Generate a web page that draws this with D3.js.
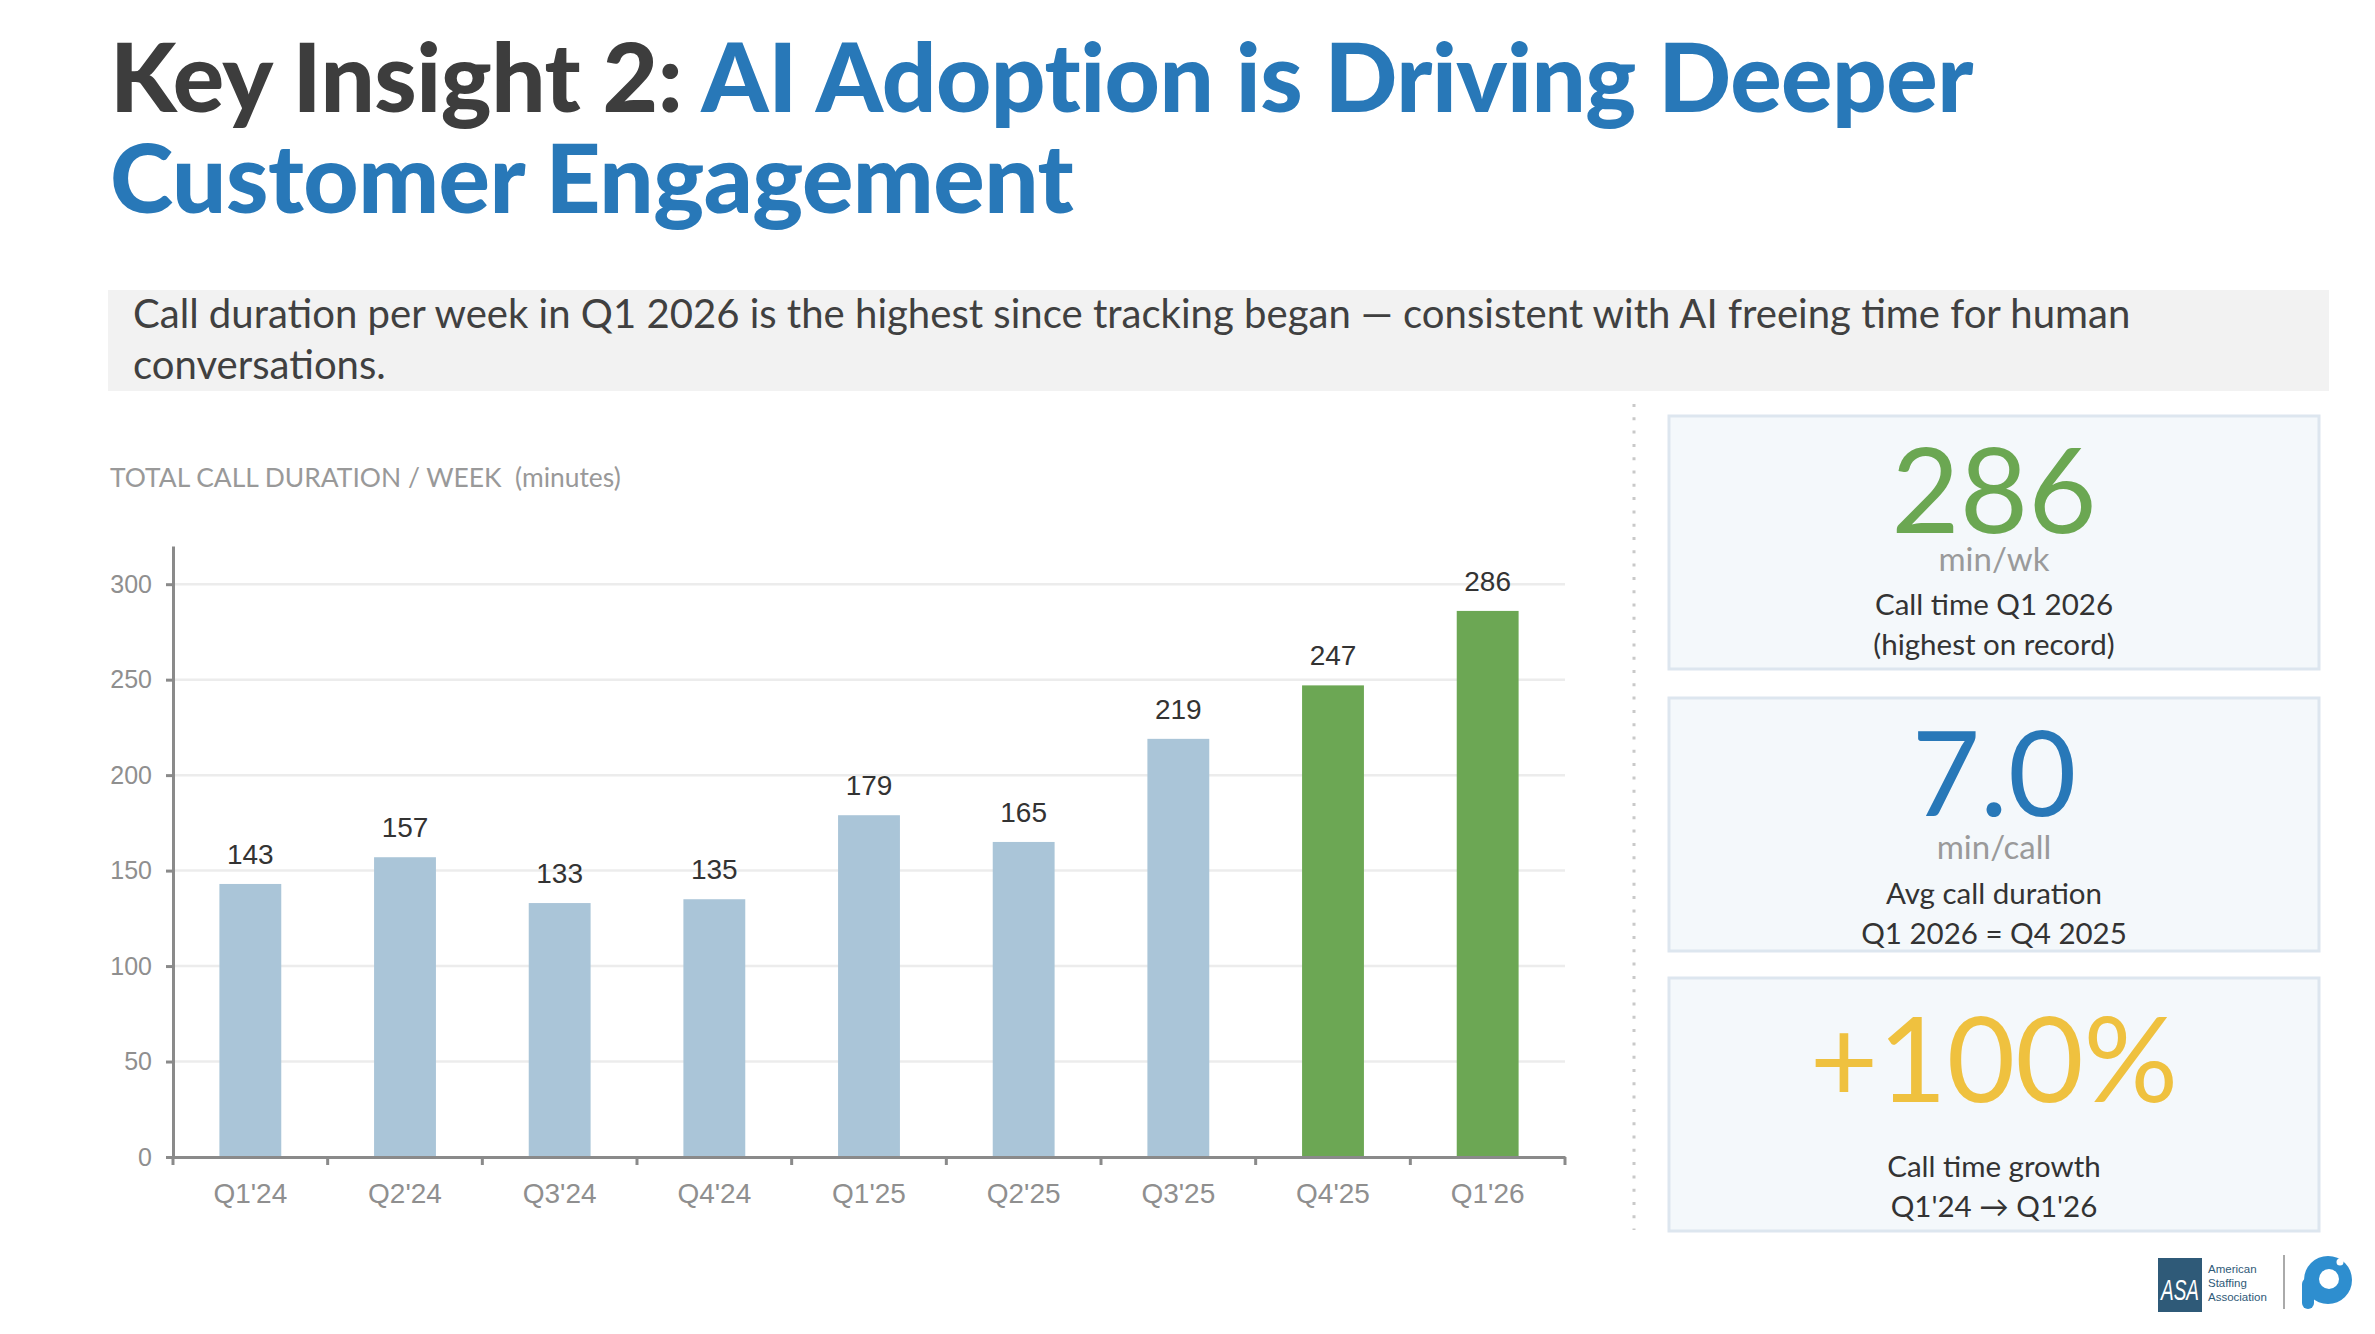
<!DOCTYPE html>
<html>
<head>
<meta charset="utf-8">
<script src="https://cdn.jsdelivr.net/npm/d3@7/dist/d3.min.js"></script>
<style>
  html, body { margin: 0; padding: 0; background: #ffffff; }
  svg { display: block; }
  text { white-space: pre; }
</style>
</head>
<body>
<svg id="chart" width="2375" height="1334"></svg>
<script>
// ---------------- DATA ----------------
const categories = ["Q1'24", "Q2'24", "Q3'24", "Q4'24", "Q1'25", "Q2'25", "Q3'25", "Q4'25", "Q1'26"];
const values = [143, 157, 133, 135, 179, 165, 219, 247, 286];
const highlighted = [false, false, false, false, false, false, false, true, true];
const yTickValues = [0, 50, 100, 150, 200, 250, 300];
const yMax = 320;

const titleDark = "Key Insight 2: ";
const titleBlue1 = "AI Adoption is Driving Deeper";
const titleBlue2 = "Customer Engagement";
const subtitleLines = [
  "Call duration per week in Q1 2026 is the highest since tracking began \u2014 consistent with AI freeing time for human",
  "conversations."
];
const chartLabel = "TOTAL CALL DURATION / WEEK  (minutes)";

const kpiValues = ["286", "7.0", "+100%"];
const kpiUnits = ["min/wk", "min/call", ""];
const kpiLines = [
  ["Call time Q1 2026", "(highest on record)"],
  ["Avg call duration", "Q1 2026 = Q4 2025"],
  ["Call time growth", "Q1'24 \u2192 Q1'26"]
];
const kpiColors = ["#6ba752", "#2878b8", "#efc13f"];
const asaLines = ["American", "Staffing", "Association"];

// ---------------- STYLE ----------------
const C = {
  dark: "#3d3d3d",
  blue: "#2878b8",
  barBlue: "#aac5d8",
  barGreen: "#6ca754",
  axis: "#8a8a8a",
  grid: "#ececec",
  tickText: "#8f8f8f",
  valueText: "#333333",
  panelFill: "#f4f8fb",
  panelStroke: "#dde6ef"
};
const SANS = "'Liberation Sans', Arial, sans-serif";
const HUM = "Lato, 'Open Sans', sans-serif";

const svg = d3.select("#chart");

function fitWidth(sel, target) {
  const w = sel.node().getComputedTextLength();
  const fs = parseFloat(sel.attr("font-size"));
  sel.attr("font-size", fs * target / w);
  return fs * target / w;
}

// ---------------- TITLE ----------------
const t1 = svg.append("text")
  .attr("x", 110).attr("y", 112)
  .attr("font-family", HUM).attr("font-weight", 900)
  .attr("font-size", 88).attr("letter-spacing", -0.5);
t1.append("tspan").attr("fill", C.dark).text(titleDark);
t1.append("tspan").attr("fill", C.blue).text(titleBlue1);
const titleSize = fitWidth(t1, 1861);

svg.append("text")
  .attr("x", 110).attr("y", 213)
  .attr("font-family", HUM).attr("font-weight", 900)
  .attr("font-size", titleSize).attr("letter-spacing", -0.5)
  .attr("fill", C.blue).text(titleBlue2);

// ---------------- SUBTITLE BOX ----------------
svg.append("rect")
  .attr("x", 108).attr("y", 290).attr("width", 2221).attr("height", 101)
  .attr("fill", "#f2f2f2");

const s1 = svg.append("text")
  .attr("x", 133).attr("y", 328)
  .attr("font-family", HUM).attr("font-size", 36)
  .attr("fill", "#404040").text(subtitleLines[0]);
const subSize = fitWidth(s1, 1998);
svg.append("text")
  .attr("x", 133).attr("y", 379)
  .attr("font-family", HUM).attr("font-size", subSize)
  .attr("fill", "#404040").text(subtitleLines[1]);

// ---------------- CHART LABEL ----------------
const cl = svg.append("text")
  .attr("x", 110).attr("y", 487)
  .attr("font-family", HUM).attr("font-size", 25)
  .attr("fill", "#999999").text(chartLabel);
fitWidth(cl, 511);

// ---------------- BAR CHART ----------------
const plot = { left: 173, right: 1565, top: 546, bottom: 1157 };

const x = d3.scaleBand()
  .domain(categories)
  .range([plot.left, plot.right])
  .paddingInner(0.6)
  .paddingOuter(0.3);

const y = d3.scaleLinear()
  .domain([0, yMax])
  .range([plot.bottom, plot.top]);

// gridlines
svg.append("g")
  .selectAll("line")
  .data(yTickValues.filter(v => v > 0))
  .join("line")
  .attr("x1", plot.left).attr("x2", plot.right)
  .attr("y1", d => y(d)).attr("y2", d => y(d))
  .attr("stroke", C.grid).attr("stroke-width", 2.5);

// bars
svg.append("g")
  .selectAll("rect")
  .data(categories)
  .join("rect")
  .attr("x", d => x(d))
  .attr("width", x.bandwidth())
  .attr("y", (d, i) => y(values[i]))
  .attr("height", (d, i) => y(0) - y(values[i]))
  .attr("fill", (d, i) => highlighted[i] ? C.barGreen : C.barBlue);

// value labels
svg.append("g")
  .selectAll("text")
  .data(categories)
  .join("text")
  .attr("x", d => x(d) + x.bandwidth() / 2)
  .attr("y", (d, i) => y(values[i]) - 20)
  .attr("text-anchor", "middle")
  .attr("font-family", SANS).attr("font-size", 28)
  .attr("fill", C.valueText)
  .text((d, i) => values[i]);

// y axis
const yAxis = svg.append("g")
  .attr("transform", `translate(${plot.left},0)`)
  .call(d3.axisLeft(y).tickValues(yTickValues).tickSize(7).tickSizeOuter(0).tickPadding(14));
yAxis.select(".domain").attr("stroke", C.axis).attr("stroke-width", 3);
yAxis.selectAll(".tick line").attr("stroke", C.axis).attr("stroke-width", 3);
yAxis.selectAll(".tick text")
  .attr("font-family", SANS).attr("font-size", 25).attr("fill", C.tickText);

// x axis (labels at band centres, ticks at band boundaries)
const xAxis = svg.append("g")
  .attr("transform", `translate(0,${plot.bottom})`)
  .call(d3.axisBottom(x).tickSize(0).tickSizeOuter(0).tickPadding(26));
xAxis.select(".domain").attr("stroke", C.axis).attr("stroke-width", 3);
xAxis.selectAll(".tick text")
  .attr("font-family", SANS).attr("font-size", 28).attr("fill", C.tickText);

const boundaries = d3.range(categories.length + 1);
xAxis.append("g")
  .selectAll("line")
  .data(boundaries)
  .join("line")
  .attr("x1", i => plot.left + i * x.step())
  .attr("x2", i => plot.left + i * x.step())
  .attr("y1", 0).attr("y2", 8)
  .attr("stroke", C.axis).attr("stroke-width", 3);

// ---------------- SEPARATOR ----------------
svg.append("line")
  .attr("x1", 1634).attr("x2", 1634)
  .attr("y1", 404).attr("y2", 1230)
  .attr("stroke", "#c9c9c9").attr("stroke-width", 3)
  .attr("stroke-dasharray", "3 10.3");

// ---------------- KPI PANELS ----------------
const panel = { x: 1669, w: 650, h: 253 };
const panelTops = [416, 698, 978];
const bigBase = [533, 816, 1102];
const unitBase = [571, 859, 0];
const lineBase = [[615, 655], [904, 944], [1177, 1217]];
const cx = panel.x + panel.w / 2;

const panels = svg.append("g").selectAll("g")
  .data(kpiValues)
  .join("g");

panels.append("rect")
  .attr("x", panel.x).attr("y", (d, i) => panelTops[i])
  .attr("width", panel.w).attr("height", panel.h)
  .attr("fill", C.panelFill).attr("stroke", C.panelStroke).attr("stroke-width", 3);

panels.append("text")
  .attr("x", cx).attr("y", (d, i) => bigBase[i])
  .attr("text-anchor", "middle")
  .attr("font-family", HUM).attr("font-size", 118)
  .attr("fill", (d, i) => kpiColors[i])
  .text(d => d);

panels.append("text")
  .attr("x", cx).attr("y", (d, i) => unitBase[i])
  .attr("text-anchor", "middle")
  .attr("font-family", HUM).attr("font-size", 33)
  .attr("fill", "#9a9a9a")
  .text((d, i) => kpiUnits[i]);

panels.each(function (d, i) {
  d3.select(this).selectAll("text.line")
    .data(kpiLines[i])
    .join("text")
    .attr("class", "line")
    .attr("x", cx).attr("y", (t, j) => lineBase[i][j])
    .attr("text-anchor", "middle")
    .attr("font-family", HUM).attr("font-size", 29.5)
    .attr("fill", "#333333")
    .text(t => t);
});

// ---------------- LOGOS ----------------
const logo = svg.append("g");
logo.append("rect")
  .attr("x", 2158).attr("y", 1258).attr("width", 44).attr("height", 54)
  .attr("fill", "#2f5a78");
logo.append("text")
  .attr("x", 2180).attr("y", 1300)
  .attr("text-anchor", "middle")
  .attr("font-family", "'Liberation Sans Narrow', 'Liberation Sans', sans-serif")
  .attr("font-style", "italic")
  .attr("font-size", 30).attr("fill", "#ffffff")
  .attr("textLength", 38).attr("lengthAdjust", "spacingAndGlyphs")
  .text("ASA");
logo.selectAll("text.asa")
  .data(asaLines)
  .join("text")
  .attr("class", "asa")
  .attr("x", 2208).attr("y", (d, i) => 1273 + i * 14)
  .attr("font-family", "'Liberation Sans Narrow', 'Liberation Sans', sans-serif")
  .attr("font-size", 11.5).attr("fill", "#2f5a78")
  .text(d => d);
logo.append("line")
  .attr("x1", 2284).attr("x2", 2284).attr("y1", 1255).attr("y2", 1309)
  .attr("stroke", "#aaaaaa").attr("stroke-width", 2);
// round "p" mark
logo.append("circle").attr("cx", 2328).attr("cy", 1280).attr("r", 24).attr("fill", "#2e8ecf");
logo.append("rect").attr("x", 2302).attr("y", 1278).attr("width", 12).attr("height", 31)
  .attr("rx", 6).attr("fill", "#2e8ecf");
logo.append("circle").attr("cx", 2329).attr("cy", 1279).attr("r", 10).attr("fill", "#ffffff");
logo.append("circle").attr("cx", 2340).attr("cy", 1262).attr("r", 3.5).attr("fill", "#ffffff");
</script>
</body>
</html>
